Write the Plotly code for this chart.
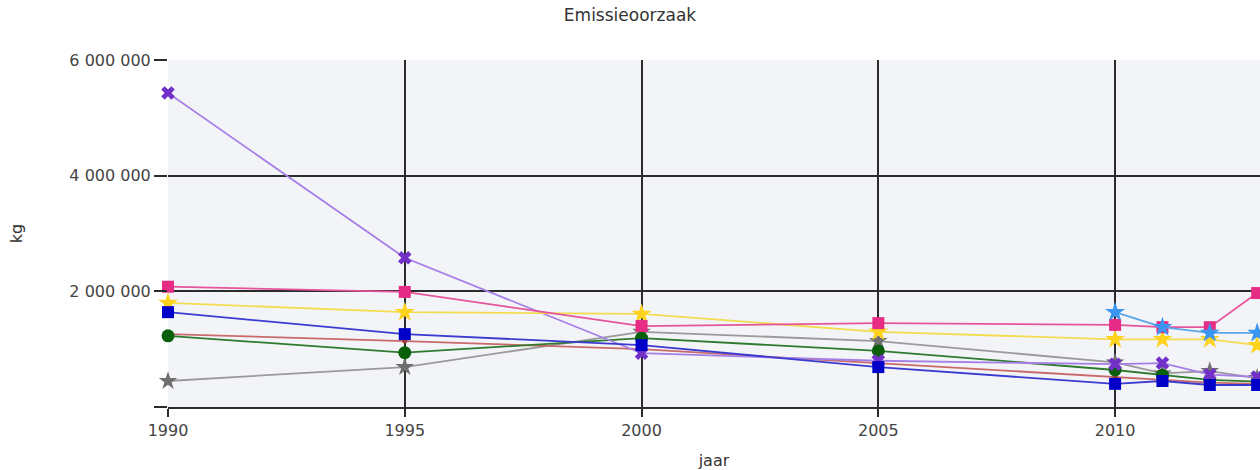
import plotly.graph_objects as go

years = [1990, 1995, 2000, 2005, 2010, 2011, 2012, 2013]

grey_vals = [450000, 690000, 1300000, 1140000, 770000, 580000, 620000, 500000]
red_vals = [1260000, 1140000, 1000000, 760000, 520000, 480000, 420000, 400000]
green_vals = [1230000, 940000, 1190000, 970000, 640000, 550000, 470000, 440000]
purple_vals = [5430000, 2580000, 930000, 800000, 740000, 760000, 560000, 520000]
yellow_vals = [1800000, 1640000, 1610000, 1300000, 1170000, 1170000, 1170000, 1070000]
pink_vals = [2080000, 1990000, 1400000, 1450000, 1420000, 1380000, 1380000, 1970000]
lightblue_vals = [None, None, None, None, 1640000, 1380000, 1280000, 1280000]
blue_vals = [1640000, 1260000, 1070000, 690000, 400000, 450000, 380000, 380000]

y_tickvals = [0, 2000000, 4000000, 6000000]
y_ticktext = ["", "2 000 000", "4 000 000", "6 000 000"]

series = [
    (grey_vals, "#9a9a9a", "#6f6f6f", "star", 14),
    (red_vals, "#c86a6a", "#a83a3a", "circle", 5),
    (green_vals, "#2e7a2e", "#0a600a", "circle", 13),
    (purple_vals, "#a57ee6", "#7330c8", "x", 12),
    (yellow_vals, "#f2dc50", "#ffd21e", "star", 15),
    (pink_vals, "#e5559a", "#e62c85", "square", 12),
    (lightblue_vals, "#5aa8ea", "#3a96f0", "star", 15),
    (blue_vals, "#3b3bd0", "#0000c8", "square", 12),
]

fig = go.Figure()
for vals, lc, mc, sym, sz in series:
    fig.add_trace(go.Scatter(
        x=years, y=vals, mode="lines+markers",
        line=dict(color=lc, width=1.8),
        marker=dict(color=mc, symbol=sym, size=sz, line=dict(width=0)),
        cliponaxis=False, connectgaps=False, showlegend=False,
    ))

fig.update_layout(
    width=1260, height=470,
    margin=dict(l=168, r=0, t=60, b=63),
    paper_bgcolor="white", plot_bgcolor="#f3f4f8",
    font=dict(family="DejaVu Sans, Verdana, sans-serif", size=16, color="#444444"),
    title=dict(text="Emissieoorzaak", x=0.5, xanchor="center", y=0.968, yanchor="middle",
               font=dict(size=17, color="#333333")),
    showlegend=False,
)
fig.update_xaxes(
    range=[1990, 2013.06], tick0=1990, dtick=5, tickformat="d",
    showgrid=True, gridcolor="#2b2b2b", gridwidth=1.6,
    ticks="outside", ticklen=8, tickcolor="#2b2b2b", tickwidth=1.6,
    showline=True, linecolor="#2b2b2b", linewidth=1.6,
    zeroline=False, automargin=False,
    title=dict(text="jaar", standoff=20, font=dict(size=16, color="#333333")),
    tickfont=dict(size=16, color="#444444"),
)
fig.update_yaxes(
    range=[0, 6000000], tickmode="array", tickvals=y_tickvals, ticktext=y_ticktext,
    showgrid=True, gridcolor="#2b2b2b", gridwidth=1.6,
    ticks="outside", ticklen=13, tickcolor="#2b2b2b", tickwidth=1.6,
    showline=False, zeroline=False, automargin=False,
    title=dict(text="kg", standoff=42, font=dict(size=16, color="#333333")),
    tickfont=dict(size=16, color="#444444"),
)

fig.write_html("out.html", config={"displayModeBar": False},
               post_script="document.body.style.margin='0';document.body.style.overflow='hidden';")
